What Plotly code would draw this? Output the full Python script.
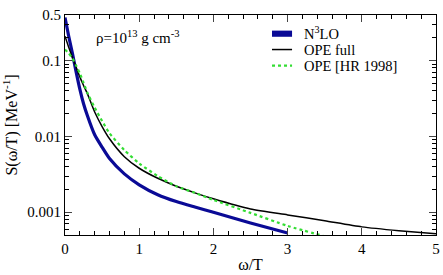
import plotly.graph_objects as go

omega = [0, 0.05, 0.1, 0.15, 0.2, 0.25, 0.3, 0.4, 0.5, 0.6, 0.8, 1.0, 1.25, 1.5, 1.75, 2.0, 2.5, 3.0, 3.5, 4.0, 4.5, 5.0]

n3lo = [0.37, 0.21, 0.125, 0.071, 0.042, 0.027, 0.019, 0.0105, 0.0072, 0.0051, 0.0032, 0.0023, 0.0017, 0.00138, 0.00117, 0.001, 0.00072, 0.00053, None, None, None, None]
ope_full = [0.21, 0.15, 0.11, 0.082, 0.061, 0.047, 0.037, 0.021, 0.0135, 0.0093, 0.0054, 0.0038, 0.0028, 0.0022, 0.0018, 0.0015, 0.0011, 0.00092, 0.00077, 0.00064, 0.00057, 0.00052]
ope_hr = [0.14, 0.125, 0.107, 0.086, 0.068, 0.051, 0.038, 0.024, 0.016, 0.011, 0.0066, 0.0044, 0.003, 0.0022, 0.0018, 0.00145, 0.00098, 0.00066, 0.00048, None, None, None]

series_names = ["N<sup>3</sup>LO", "OPE full", "OPE [HR 1998]"]

y_tickvals = [0.001, 0.01, 0.1, 0.4]
y_ticktext = ["0.001", "0.01", "0.1", "0.5"]
y_minor = [0.0006, 0.0007, 0.0008, 0.0009, 0.002, 0.003, 0.004, 0.005, 0.006, 0.007, 0.008, 0.009,
           0.02, 0.03, 0.04, 0.05, 0.06, 0.07, 0.08, 0.09, 0.2, 0.3]

font = "Liberation Serif"
BLUE = "#0a0a96"
GREEN = "#33dd33"

fig = go.Figure()
fig.add_trace(go.Scatter(x=omega, y=n3lo, mode="lines", name=series_names[0],
                         line=dict(color=BLUE, width=3.2, shape="spline", smoothing=0.6)))
fig.add_trace(go.Scatter(x=omega, y=ope_full, mode="lines", name=series_names[1],
                         line=dict(color="black", width=1.5, shape="spline", smoothing=0.6)))
fig.add_trace(go.Scatter(x=omega, y=ope_hr, mode="lines", name=series_names[2],
                         line=dict(color=GREEN, width=2.2, dash="dot", shape="spline", smoothing=0.6)))

# compact legend (drawn in paper coordinates)
leg_x0, leg_x1, leg_tx = 0.558, 0.612, 0.642
leg_rows = [0.916, 0.843, 0.770]
shapes = [
    dict(type="rect", xref="paper", yref="paper", x0=leg_x0, x1=leg_x1, y0=leg_rows[0] - 0.015,
         y1=leg_rows[0] + 0.013, fillcolor=BLUE, line=dict(width=0)),
    dict(type="line", xref="paper", yref="paper", x0=leg_x0, x1=leg_x1, y0=leg_rows[1], y1=leg_rows[1],
         line=dict(color="black", width=1.5)),
    dict(type="line", xref="paper", yref="paper", x0=leg_x0, x1=leg_x1, y0=leg_rows[2], y1=leg_rows[2],
         line=dict(color=GREEN, width=2.2, dash="dot")),
]
annotations = [dict(x=leg_tx, y=yy, xref="paper", yref="paper", showarrow=False, xanchor="left",
                    yanchor="middle", text=nm, borderpad=0, font=dict(size=14.5, family=font))
               for nm, yy in zip(series_names, leg_rows)]
annotations.append(dict(x=0.079, y=0.9, xref="paper", yref="paper", showarrow=False,
                        xanchor="left", yanchor="middle",
                        text="ρ=10<sup>13</sup> g cm<sup>-3</sup>",
                        font=dict(size=15, family=font)))

fig.update_layout(
    width=443, height=275,
    margin=dict(l=65, r=7, t=15, b=40),
    paper_bgcolor="white", plot_bgcolor="white",
    font=dict(family=font, size=15, color="black"),
    showlegend=False,
    shapes=shapes,
    annotations=annotations,
)
fig.update_xaxes(range=[0, 5], tickvals=[0, 1, 2, 3, 4, 5], ticks="inside", ticklen=7,
                 showline=True, linecolor="black", linewidth=1.2, mirror="allticks",
                 showgrid=False, zeroline=False, automargin=False,
                 minor=dict(ticks="inside", ticklen=4, dtick=0.2, tickcolor="black"),
                 title=dict(text="ω/T", standoff=2, font=dict(size=16)))
fig.update_yaxes(type="log", range=[-3.301, -0.398], tickvals=y_tickvals, ticktext=y_ticktext,
                 ticks="inside", ticklen=7, showline=True, linecolor="black", linewidth=1.2,
                 mirror="allticks", showgrid=False, zeroline=False, automargin=False,
                 minor=dict(ticks="inside", ticklen=4, tickcolor="black", showgrid=False, tickvals=y_minor),
                 title=dict(text="S(ω/T) [MeV<sup>-1</sup>]", standoff=6, font=dict(size=16)))

fig.write_html("out.html", config={"displayModeBar": False},
               post_script="document.body.style.margin='0';document.body.style.overflow='hidden';")
